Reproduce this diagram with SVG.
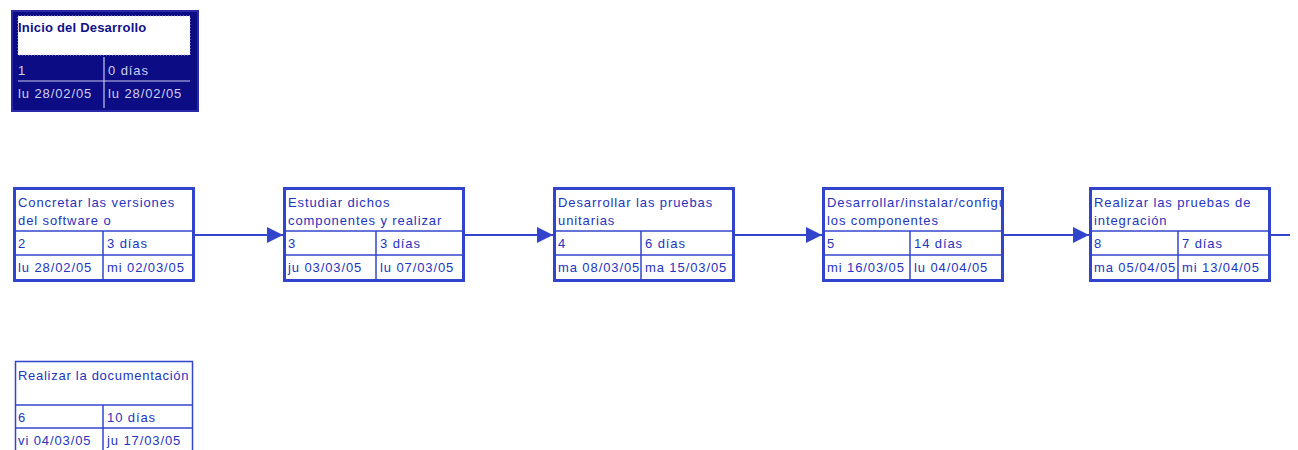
<svg xmlns="http://www.w3.org/2000/svg" width="1298" height="450" viewBox="0 0 1298 450">
<defs>
<style>
.t{font-family:"Liberation Sans",Arial,sans-serif;font-size:13px;letter-spacing:0.9px;fill:#2434c0}
.box{fill:#ffffff;stroke:#3344cc;stroke-width:3}
.thin{fill:#ffffff;stroke:#3344cc;stroke-width:1.5}
.ln{stroke:#3344cc;stroke-width:1.5;fill:none}
.conn{stroke:#3344cc;stroke-width:2;fill:none}
.wt{font-family:"Liberation Sans",Arial,sans-serif;font-size:13px;letter-spacing:0.9px;fill:#cfcff0}
.bt{font-family:"Liberation Sans",Arial,sans-serif;font-size:13px;font-weight:bold;letter-spacing:0.2px;fill:#10108a}
.wl{stroke:#c8c8ee;stroke-width:1.2;fill:none}
</style>
<marker id="ah" viewBox="0 0 16 16" refX="16" refY="8" markerWidth="16" markerHeight="16" markerUnits="userSpaceOnUse" orient="auto">
<path d="M0,0 L16,8 L0,16 z" fill="#3344cc"/>
</marker>
<clipPath id="c5"><rect x="824" y="188" width="178" height="92"/></clipPath>
</defs>
<rect width="1298" height="450" fill="#ffffff"/>

<g id="connectors">
<line class="conn" x1="195" y1="235" x2="283" y2="235" marker-end="url(#ah)"/>
<line class="conn" x1="465" y1="235" x2="553" y2="235" marker-end="url(#ah)"/>
<line class="conn" x1="735" y1="235" x2="822" y2="235" marker-end="url(#ah)"/>
<line class="conn" x1="1004" y1="235" x2="1089" y2="235" marker-end="url(#ah)"/>
<line class="conn" x1="1271" y1="235" x2="1290" y2="235"/>
</g>

<g id="node1">
<rect x="12" y="11" width="186" height="100" fill="#0c0c84" stroke="#2a2aa8" stroke-width="2"/>
<rect x="18" y="16" width="172" height="39" fill="#ffffff" stroke="#c0c0d8" stroke-width="1" stroke-dasharray="1,2"/>
<line class="wl" x1="18" y1="81" x2="190" y2="81"/>
<line class="wl" x1="104" y1="57" x2="104" y2="108"/>
<text class="bt" x="18" y="32">Inicio del Desarrollo</text>
<text class="wt" x="18" y="75">1</text>
<text class="wt" x="108" y="75">0 días</text>
<text class="wt" x="18" y="98">lu 28/02/05</text>
<text class="wt" x="108" y="98">lu 28/02/05</text>
</g>

<g id="node2">
<rect class="box" x="14.5" y="188.5" width="179" height="92"/>
<line class="ln" x1="14" y1="231" x2="194" y2="231"/>
<line class="ln" x1="14" y1="255" x2="194" y2="255"/>
<line class="ln" x1="103" y1="231" x2="103" y2="281"/>
<text class="t" x="18" y="207">Concretar las versiones</text>
<text class="t" x="18" y="225">del software o</text>
<text class="t" x="18" y="248">2</text>
<text class="t" x="107" y="248">3 días</text>
<text class="t" x="18" y="272">lu 28/02/05</text>
<text class="t" x="107" y="272">mi 02/03/05</text>
</g>

<g id="node3">
<rect class="box" x="284.5" y="188.5" width="179" height="92"/>
<line class="ln" x1="284" y1="231" x2="464" y2="231"/>
<line class="ln" x1="284" y1="255" x2="464" y2="255"/>
<line class="ln" x1="376" y1="231" x2="376" y2="281"/>
<text class="t" x="288" y="207">Estudiar dichos</text>
<text class="t" x="288" y="225">componentes y realizar</text>
<text class="t" x="288" y="248">3</text>
<text class="t" x="380" y="248">3 días</text>
<text class="t" x="288" y="272">ju 03/03/05</text>
<text class="t" x="380" y="272">lu 07/03/05</text>
</g>

<g id="node4">
<rect class="box" x="554.5" y="188.5" width="179" height="92"/>
<line class="ln" x1="554" y1="231" x2="734" y2="231"/>
<line class="ln" x1="554" y1="255" x2="734" y2="255"/>
<line class="ln" x1="641" y1="231" x2="641" y2="281"/>
<text class="t" x="558" y="207">Desarrollar las pruebas</text>
<text class="t" x="558" y="225">unitarias</text>
<text class="t" x="558" y="248">4</text>
<text class="t" x="645" y="248">6 días</text>
<text class="t" x="558" y="272">ma 08/03/05</text>
<text class="t" x="645" y="272">ma 15/03/05</text>
</g>

<g id="node5">
<rect class="box" x="823.5" y="188.5" width="179" height="92"/>
<line class="ln" x1="823" y1="231" x2="1003" y2="231"/>
<line class="ln" x1="823" y1="255" x2="1003" y2="255"/>
<line class="ln" x1="910" y1="231" x2="910" y2="281"/>
<text class="t" x="827" y="207" clip-path="url(#c5)">Desarrollar/instalar/configu</text>
<text class="t" x="827" y="225">los componentes</text>
<text class="t" x="827" y="248">5</text>
<text class="t" x="914" y="248">14 días</text>
<text class="t" x="827" y="272">mi 16/03/05</text>
<text class="t" x="914" y="272">lu 04/04/05</text>
</g>

<g id="node6">
<rect class="box" x="1090.5" y="188.5" width="179" height="92"/>
<line class="ln" x1="1090" y1="231" x2="1270" y2="231"/>
<line class="ln" x1="1090" y1="255" x2="1270" y2="255"/>
<line class="ln" x1="1178" y1="231" x2="1178" y2="281"/>
<text class="t" x="1094" y="207">Realizar las pruebas de</text>
<text class="t" x="1094" y="225">integración</text>
<text class="t" x="1094" y="248">8</text>
<text class="t" x="1182" y="248">7 días</text>
<text class="t" x="1094" y="272">ma 05/04/05</text>
<text class="t" x="1182" y="272">mi 13/04/05</text>
</g>

<g id="node7">
<rect class="thin" x="15.5" y="361.5" width="177" height="100"/>
<line class="ln" x1="15" y1="405" x2="193" y2="405"/>
<line class="ln" x1="15" y1="428" x2="193" y2="428"/>
<line class="ln" x1="103" y1="405" x2="103" y2="450"/>
<text class="t" x="18" y="380" style="letter-spacing:0.72px">Realizar la documentación</text>
<text class="t" x="18" y="422">6</text>
<text class="t" x="107" y="422">10 días</text>
<text class="t" x="18" y="445">vi 04/03/05</text>
<text class="t" x="107" y="445">ju 17/03/05</text>
</g>
</svg>
